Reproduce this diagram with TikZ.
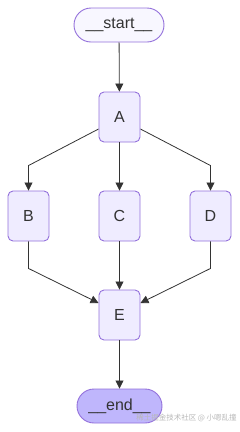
\documentclass[tikz,border=0pt]{standalone}
\usepackage{fontspec}
\setmainfont{Liberation Sans}
\newfontfamily\cjk{Noto Sans CJK SC}
\usetikzlibrary{arrows.meta}
\definecolor{nodefill}{HTML}{EFECFF}
\definecolor{nodeborder}{HTML}{9370DB}
\definecolor{endfill}{HTML}{BFB6FC}
\definecolor{startfill}{HTML}{F8F7FF}
\definecolor{edgecol}{HTML}{333333}
\definecolor{txtcol}{HTML}{333333}
\definecolor{wmcol}{HTML}{B8B8B8}
\begin{document}
\begin{tikzpicture}[x=1pt,y=-1pt,
  stepbox/.style={draw=nodeborder,fill=nodefill,line width=0.9pt,rounded corners=5pt,
    minimum width=41pt,minimum height=50pt,inner sep=0pt,text=txtcol,font=\fontsize{16}{19}\selectfont},
  termbox/.style={draw=nodeborder,line width=0.9pt,rounded corners=17pt,
    minimum height=34pt,inner sep=0pt,text=txtcol,font=\fontsize{16}{19}\selectfont},
  edge/.style={draw=edgecol,line width=0.8pt,-{Triangle[length=8pt,width=8pt]}}]
\useasboundingbox (0,0) rectangle (240,432);
\node[termbox,fill=startfill,minimum width=90pt] (start) at (119,25) {\_\_start\_\_};
\node[stepbox] (A) at (119.5,117) {A};
\node[stepbox] (B) at (28.5,216) {B};
\node[stepbox] (C) at (119.5,216) {C};
\node[stepbox] (D) at (210.5,216) {D};
\node[stepbox] (E) at (119.5,315) {E};
\node[termbox,fill=endfill,minimum width=85pt] (end) at (119.5,406) {\_\_end\_\_};
\draw[edge] (start) -- (A);
\draw[edge] ([yshift=-12pt]A.west) -- ([yshift=25pt]B.north) -- (B.north);
\draw[edge] (A) -- (C);
\draw[edge] ([yshift=-12pt]A.east) -- ([yshift=25pt]D.north) -- (D.north);
\draw[edge] (B.south) -- ([yshift=-27pt]B.south) -- ([yshift=12pt]E.west);
\draw[edge] (C) -- (E);
\draw[edge] (D.south) -- ([yshift=-27pt]D.south) -- ([yshift=12pt]E.east);
\draw[edge] (E) -- (end);
\node[text=wmcol,font=\cjk\fontsize{7.5}{9}\selectfont,inner sep=0pt] (wm) at (186.5,418) {稀土掘金技术社区 @ 小嗯乱撞};
\end{tikzpicture}
\end{document}
